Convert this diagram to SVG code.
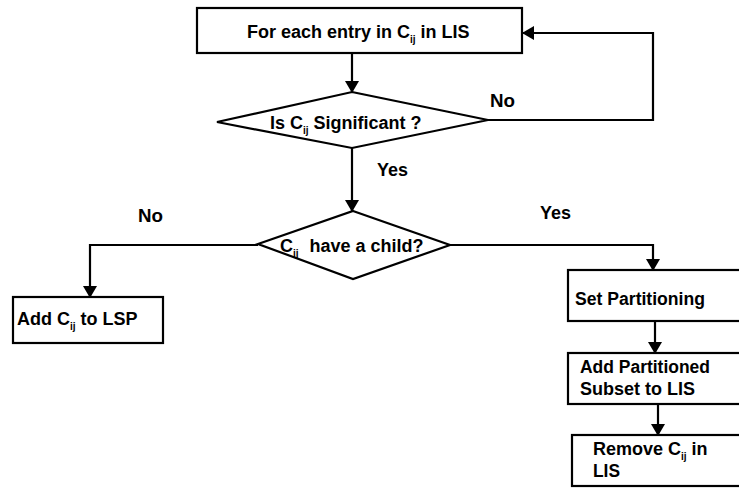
<svg xmlns="http://www.w3.org/2000/svg" width="739" height="488" viewBox="0 0 739 488">
<style>
  .box{fill:#fff;stroke:#000;stroke-width:2.2}
  .dia{fill:#fff;stroke:#000;stroke-width:2.2;stroke-linejoin:miter}
  .t{font-family:"Liberation Sans",Arial,sans-serif;font-weight:bold;font-size:18px;fill:#000}
  .sub{font-size:10px}
  .c{fill:none;stroke:#000;stroke-width:2.2}
</style>
<defs>
  <marker id="ah" viewBox="0 0 12 14" refX="11" refY="7" markerWidth="12" markerHeight="14" markerUnits="userSpaceOnUse" orient="auto">
    <path d="M0,0 L12,7 L0,14 Z" fill="#000"/>
  </marker>
</defs>
<rect width="739" height="488" fill="#fff"/>
<g id="connectors">
  <path class="c" d="M352,53 V92" marker-end="url(#ah)"/>
  <path class="c" d="M488,120 H653 V33 H523" marker-end="url(#ah)"/>
  <path class="c" d="M352,148 V211" marker-end="url(#ah)"/>
  <path class="c" d="M258,245 H90 V297" marker-end="url(#ah)"/>
  <path class="c" d="M450,245 H653 V270" marker-end="url(#ah)"/>
  <path class="c" d="M655,321 V353" marker-end="url(#ah)"/>
  <path class="c" d="M658,404 V435" marker-end="url(#ah)"/>
  <text class="t" x="490" y="107" textLength="25" lengthAdjust="spacingAndGlyphs">No</text>
  <text class="t" x="377" y="176" textLength="31" lengthAdjust="spacingAndGlyphs">Yes</text>
  <text class="t" x="138" y="222" textLength="25" lengthAdjust="spacingAndGlyphs">No</text>
  <text class="t" x="540" y="219" textLength="31" lengthAdjust="spacingAndGlyphs">Yes</text>
</g>
<g id="start">
  <rect class="box" x="197" y="8" width="325" height="45"/>
  <text class="t" x="247" y="38">For each entry in C<tspan class="sub" dy="5">ij</tspan><tspan dy="-5"> in LIS</tspan></text>
</g>
<g id="significant">
  <polygon class="dia" points="352,92 488,120 352,148 217,122"/>
  <text class="t" x="270" y="129">Is C<tspan class="sub" dy="5">ij</tspan><tspan dy="-5"> Significant ?</tspan></text>
</g>
<g id="child">
  <polygon class="dia" points="353,211 450,245 353,279 258,244"/>
  <text class="t" x="280" y="252">C<tspan class="sub" dy="5">ij</tspan><tspan dy="-5" dx="6"> have a child?</tspan></text>
</g>
<g id="addlsp">
  <rect class="box" x="13" y="297" width="150" height="46"/>
  <text class="t" x="17" y="325">Add C<tspan class="sub" dy="5">ij</tspan><tspan dy="-5"> to LSP</tspan></text>
</g>
<g id="setpart">
  <rect class="box" x="568" y="270" width="180" height="51"/>
  <text class="t" x="575" y="305" textLength="130" lengthAdjust="spacingAndGlyphs">Set Partitioning</text>
</g>
<g id="addpart">
  <rect class="box" x="568" y="353" width="180" height="51"/>
  <text class="t" x="580" y="373" textLength="130" lengthAdjust="spacingAndGlyphs">Add Partitioned</text>
  <text class="t" x="580" y="395" textLength="115" lengthAdjust="spacingAndGlyphs">Subset to LIS</text>
</g>
<g id="remove">
  <rect class="box" x="572" y="435" width="176" height="51"/>
  <text class="t" x="593" y="455">Remove C<tspan class="sub" dy="5">ij</tspan><tspan dy="-5"> in</tspan></text>
  <text class="t" x="593" y="477" textLength="27" lengthAdjust="spacingAndGlyphs">LIS</text>
</g>
</svg>
